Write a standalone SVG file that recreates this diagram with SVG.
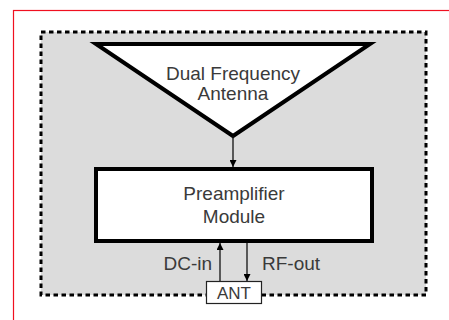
<svg xmlns="http://www.w3.org/2000/svg" width="449" height="320" viewBox="0 0 449 320">
<defs>
<style>
.lbl{font-family:"Liberation Sans",Arial,sans-serif;font-size:19px;fill:#3a3a3a;}
.thick{fill:#fff;stroke:#000;stroke-width:4;}
.conn{stroke:#111;stroke-width:1.3;fill:none;}
</style>
<marker id="ah" viewBox="0 0 10 10" refX="10" refY="5" markerWidth="7" markerHeight="7" markerUnits="userSpaceOnUse" orient="auto">
<path d="M0,0 L10,5 L0,10 z" fill="#000"/>
</marker>
</defs>
<rect width="449" height="320" fill="#fff"/>
<rect x="13.5" y="10.5" width="460" height="330" fill="none" stroke="#f01020" stroke-width="1.2"/>
<g id="enclosure">
<rect x="41" y="32" width="385" height="263" fill="#dcdcdc" stroke="#000" stroke-width="3" stroke-dasharray="4.5,3.5"/>
</g>
<g id="antenna">
<polygon points="96,44 370,44 233,136" class="thick" stroke-linejoin="miter"/>
<text class="lbl" x="233" y="80" text-anchor="middle">Dual Frequency</text>
<text class="lbl" x="233" y="100" text-anchor="middle">Antenna</text>
</g>
<g id="preamp">
<rect x="96" y="169" width="276" height="72" class="thick"/>
<text class="lbl" x="234" y="200" text-anchor="middle">Preamplifier</text>
<text class="lbl" x="234" y="223" text-anchor="middle">Module</text>
</g>
<g id="ant">
<rect x="206.5" y="281.5" width="55" height="22" fill="#fff" stroke="#222" stroke-width="1.2"/>
<text class="lbl" x="234" y="299" text-anchor="middle" style="font-size:17px">ANT</text>
</g>
<g id="connectors">
<line class="conn" x1="233" y1="136" x2="233" y2="167" marker-end="url(#ah)"/>
<line class="conn" x1="220" y1="281" x2="220" y2="243" marker-end="url(#ah)"/>
<line class="conn" x1="247" y1="243" x2="247" y2="281" marker-end="url(#ah)"/>
<text class="lbl" x="212" y="270" text-anchor="end">DC-in</text>
<text class="lbl" x="262" y="270">RF-out</text>
</g>
</svg>
